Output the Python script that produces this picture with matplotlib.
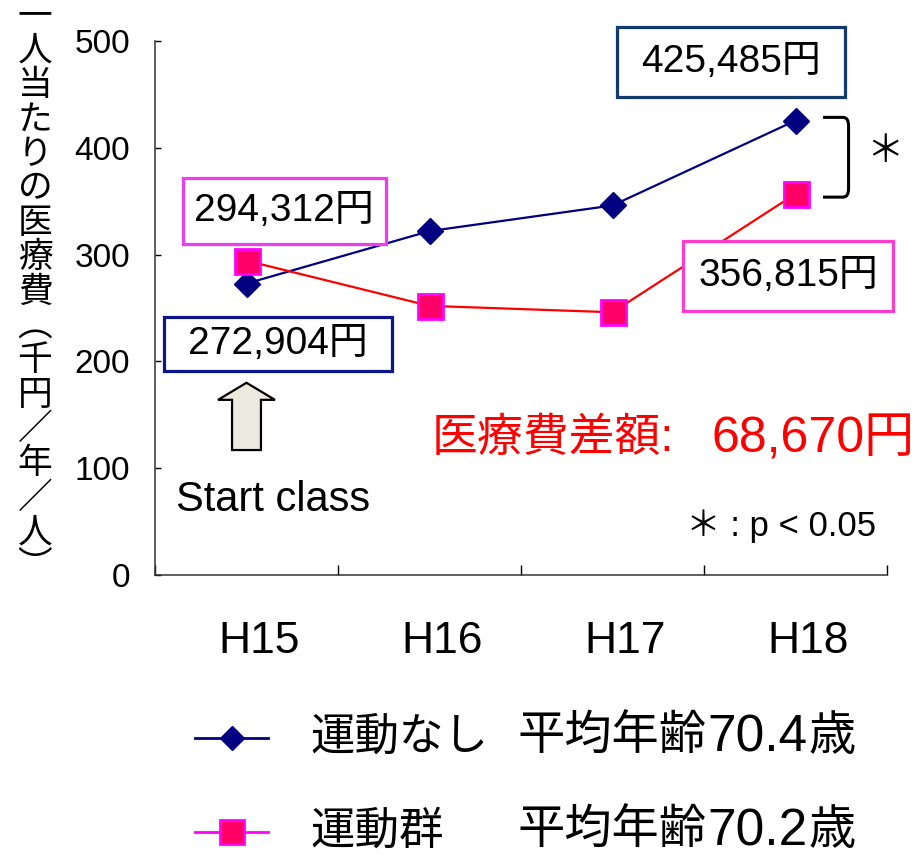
import numpy as np
import matplotlib
matplotlib.use("Agg")
import matplotlib.pyplot as plt
from matplotlib.lines import Line2D
from matplotlib.patches import Rectangle, FancyArrow, PathPatch
from matplotlib.path import Path

plt.rcParams['font.family'] = ['Liberation Sans', 'Noto Sans CJK JP', 'DejaVu Sans']

# データ（円）
years = ['H15', 'H16', 'H17', 'H18']
no_exercise = [272904, 322000, 346000, 425485]   # 運動なし
exercise = [294312, 252000, 246000, 356815]      # 運動群
diff_total = 68670
groups = ['運動なし', '運動群']
mean_age = [70.4, 70.2]
ylabel_chars = list('一人当たりの医療費︵千円／年／人︶')

W, H = 919, 855
fig = plt.figure(figsize=(W / 100, H / 100), dpi=100)
ax = fig.add_axes([155 / W, 1 - 575 / H, (887 - 155) / W, (575 - 41) / H])

x = np.arange(len(years))
yb = np.array(no_exercise) / 1000
yr = np.array(exercise) / 1000

blue_style = dict(color='#000080', marker='D', mfc='#000080', mec='#000080')
red_style = dict(marker='s', mfc='#ff0066', mec='#ff00ff', mew=2)

ax.plot(x, yb, lw=1.6, ms=13.5, zorder=4, clip_on=False, **blue_style)
ax.plot(x, yr, color='#ff0000', lw=1.6, ms=18, zorder=4, clip_on=False, **red_style)

ax.set_xlim(-0.5, 3.5)
ax.set_ylim(0, 500)
ax.set_yticks(np.arange(0, 501, 100))
ax.set_xticks(np.arange(-0.5, 3.6, 1))
ax.set_xticklabels([])
ax.set_xticks(x + 0.07, minor=True)
ax.set_xticklabels(years, minor=True, fontsize=32)
ax.tick_params(axis='x', which='major', direction='in', length=7, width=1)
ax.tick_params(axis='x', which='minor', length=0, pad=33)
ax.tick_params(axis='y', direction='in', length=4, width=1, labelsize=24, pad=18)
for s in ['top', 'right']:
    ax.spines[s].set_visible(False)
for s in ['left', 'bottom']:
    ax.spines[s].set_linewidth(1.1)
    ax.spines[s].set_color('#333333')

# 値ラベルの枠
def value_box(cx, cy, val, w, h, ec):
    sx, sy = 183.0, 534 / 500
    ax.add_patch(Rectangle((cx - w / sx / 2, cy - h / sy / 2), w / sx, h / sy,
                           fill=True, fc='white', ec=ec, lw=2.3, zorder=5, clip_on=False))
    ax.text(cx, cy, f'{val:,}円', ha='center', va='center', fontsize=28,
            zorder=6, clip_on=False)

value_box(2.65, 480, no_exercise[3], 228, 70, '#123a6c')
value_box(0.205, 341, exercise[0], 203, 66, '#f03cf0')
value_box(0.172, 216, no_exercise[0], 228, 54, '#0c168a')
value_box(2.96, 280, exercise[3], 210, 70, '#ff3ccf')

# Start class の矢印
ax.add_patch(FancyArrow(0, 117, 0, 63, width=0.158, head_width=0.311,
                        head_length=16, length_includes_head=True,
                        fc='#eceadf', ec='black', lw=1.6, zorder=3))
ax.text(-0.385, 70, 'Start class', fontsize=30, va='center', ha='left')

# 有意差の括弧
bx0, bx1 = 3.15, 3.29
top, bot = yb[-1] + 3, yr[-1] - 3
verts = [(bx0, top), (bx1 - 0.03, top), (bx1, top), (bx1, top - 8),
         (bx1, bot + 8), (bx1, bot), (bx1 - 0.03, bot), (bx0, bot)]
codes = [Path.MOVETO, Path.LINETO, Path.CURVE3, Path.CURVE3,
         Path.LINETO, Path.CURVE3, Path.CURVE3, Path.LINETO]
ax.add_patch(PathPatch(Path(verts, codes), fill=False, lw=2.2, ec='black', clip_on=False))
fig.text(885 / W, 1 - 152 / H, '＊', fontsize=27, ha='center', va='center')

fig.text(432 / W, 1 - 439 / H, '医療費差額:', color='#ff0000',
         fontsize=33, ha='left', va='center')
fig.text(712 / W, 1 - 439 / H, f'{diff_total:,}円', color='#ff0000',
         fontsize=36, ha='left', va='center')
fig.text(876 / W, 1 - 526 / H, '＊ : p < 0.05', fontsize=25, ha='right', va='center')

# 縦書きの軸ラベル
n = len(ylabel_chars)
for i, ch in enumerate(ylabel_chars):
    yy = 17 + i * (567 - 17) / (n - 1)
    fig.text(35 / W, 1 - yy / H, ch, fontsize=25, ha='center', va='center',
             family=['Noto Sans CJK JP'])

# 凡例
legend_rows = [(738, dict(ms=12, **blue_style)),
               (832, dict(color='#ff00ff', ms=17, **red_style))]
for (row_y, style), name, age in zip(legend_rows, groups, mean_age):
    fy = 1 - row_y / H
    fig.add_artist(Line2D([195 / W, 268 / W], [fy, fy], color=style['color'],
                          lw=2, transform=fig.transFigure))
    fig.add_artist(Line2D([232 / W], [fy], transform=fig.transFigure, ls='none', **style))
    fig.text(310 / W, fy, name, fontsize=32, ha='left', va='center')
    fig.text(517 / W, fy, '平均年齢', fontsize=34, ha='left', va='center')
    fig.text(707 / W, fy, f'{age}', fontsize=37, ha='left', va='center')
    fig.text(808 / W, fy, '歳', fontsize=34, ha='left', va='center')

fig.savefig('out.png', dpi=100)
